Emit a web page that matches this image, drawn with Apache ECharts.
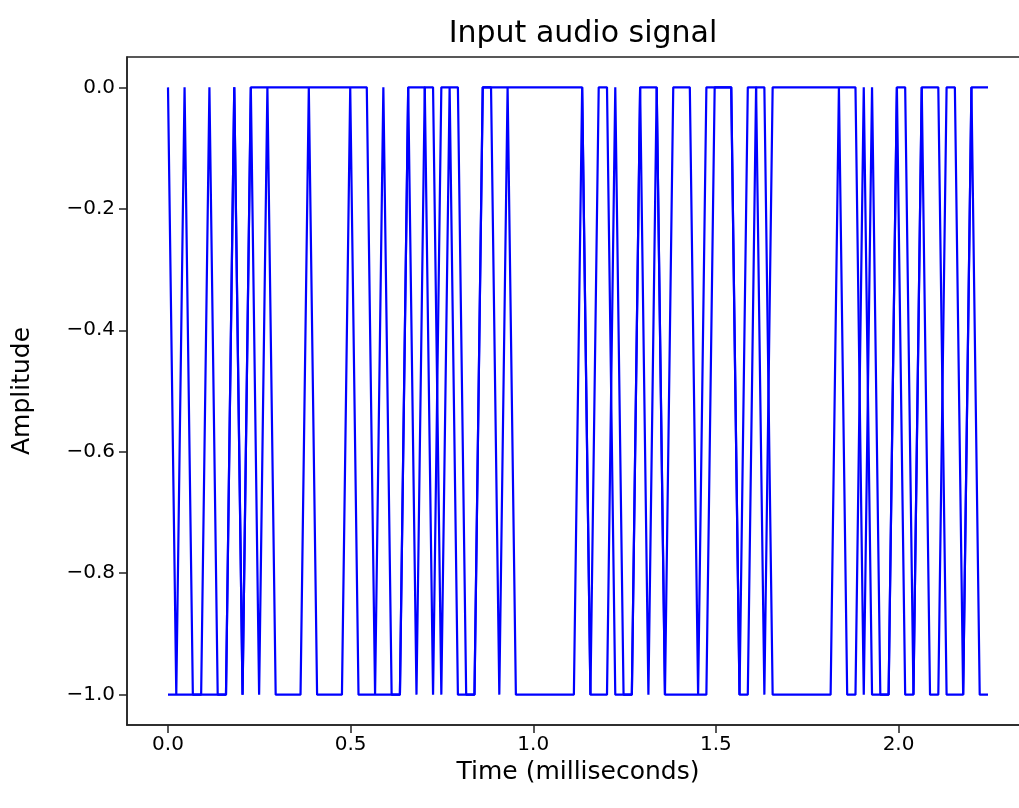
<!DOCTYPE html>
<html>
<head>
<meta charset="utf-8">
<script src="https://cdn.jsdelivr.net/npm/echarts@6/dist/echarts.min.js"></script>
<style>
  html, body { margin: 0; padding: 0; background: #fff; overflow: hidden; }
  #chart { width: 1040px; height: 808px; }
</style>
</head>
<body>
<div id="chart"></div>
<script>
// ---- data ----
const SAMPLE_RATE_KHZ = 44.1;            // samples per millisecond
const channelA = [
  0,-1,0,-1,-1,0,-1,-1,0,-1,
  0,0,0,0,0,0,0,0,0,0,
  0,0,0,0,0,-1,0,-1,-1,0,
  -1,0,0,-1,0,-1,-1,-1,0,0,
  0,0,0,0,0,0,0,0,0,0,
  0,-1,0,0,-1,-1,-1,0,0,0,
  -1,0,0,0,-1,0,0,0,0,-1,
  0,0,-1,0,0,0,0,0,0,0,
  0,0,0,0,-1,0,-1,-1,0,0,
  -1,0,0,0,-1,-1,-1,0,0,0
];
const channelB = [
  -1,-1,-1,-1,-1,-1,-1,-1,0,-1,
  0,-1,0,-1,-1,-1,-1,0,-1,-1,
  -1,-1,0,-1,-1,-1,-1,-1,-1,0,
  0,0,-1,0,0,0,-1,-1,0,0,
  -1,0,-1,-1,-1,-1,-1,-1,-1,-1,
  0,-1,-1,-1,0,-1,-1,0,-1,0,
  -1,-1,-1,-1,-1,-1,0,0,0,-1,
  -1,0,0,-1,-1,-1,-1,-1,-1,-1,
  -1,0,-1,-1,0,-1,-1,-1,0,-1,
  -1,0,-1,-1,0,0,-1,0,-1,-1
];
const xTicks = [0.0, 0.5, 1.0, 1.5, 2.0];
const yTicks = [-1.0, -0.8, -0.6, -0.4, -0.2, 0.0];

// ---- build ----
const timeMs = channelA.map((_, i) => i / SAMPLE_RATE_KHZ);
const xMaxData = timeMs[timeMs.length - 1];
const xPad = 0.05 * xMaxData;
const fmt = v => {
  const s = Math.abs(v).toFixed(1);
  return (v < -1e-9 ? '\u2212' : '') + s;
};
const FONT = 'DejaVu Sans';
const chart = echarts.init(document.getElementById('chart'), null, { renderer: 'canvas' });
chart.setOption({
  animation: false,
  backgroundColor: '#ffffff',
  title: {
    text: 'Input audio signal',
    left: 578, top: 14, textAlign: 'center',
    textStyle: { fontFamily: FONT, fontSize: 30, fontWeight: 'normal', color: '#000' }
  },
  grid: { left: 127, top: 57, width: 902, height: 668, show: true, borderColor: '#222', borderWidth: 1.5, containLabel: false },
  xAxis: {
    type: 'value', min: -xPad, max: xMaxData + xPad,
    name: 'Time (milliseconds)', nameLocation: 'middle', nameGap: 30,
    nameTextStyle: { fontFamily: FONT, fontSize: 25, color: '#000' },
    axisLine: { show: true, onZero: false, lineStyle: { color: '#222', width: 1.5 } },
    axisTick: { show: true, length: 8, customValues: xTicks, lineStyle: { color: '#222', width: 1.5 } },
    axisLabel: { customValues: xTicks, formatter: fmt, margin: 10, fontFamily: FONT, fontSize: 20, color: '#000' },
    splitLine: { show: false }
  },
  yAxis: {
    type: 'value', min: -1.05, max: 0.05,
    name: 'Amplitude', nameLocation: 'middle', nameGap: 92, nameRotate: 90,
    nameTextStyle: { fontFamily: FONT, fontSize: 25, color: '#000' },
    axisLine: { show: true, onZero: false, lineStyle: { color: '#222', width: 1.5 } },
    axisTick: { show: true, length: 8, customValues: yTicks, lineStyle: { color: '#222', width: 1.5 } },
    axisLabel: { customValues: yTicks, formatter: fmt, margin: 12, fontFamily: FONT, fontSize: 20, color: '#000' },
    splitLine: { show: false }
  },
  series: [
    { type: 'line', data: timeMs.map((t, i) => [t, channelA[i]]), showSymbol: false, symbol: 'none',
      lineStyle: { color: '#0000ff', width: 2.2 }, silent: true, z: 3 },
    { type: 'line', data: timeMs.map((t, i) => [t, channelB[i]]), showSymbol: false, symbol: 'none',
      lineStyle: { color: '#0000ff', width: 2.2 }, silent: true, z: 3 }
  ]
});
</script>
</body>
</html>
